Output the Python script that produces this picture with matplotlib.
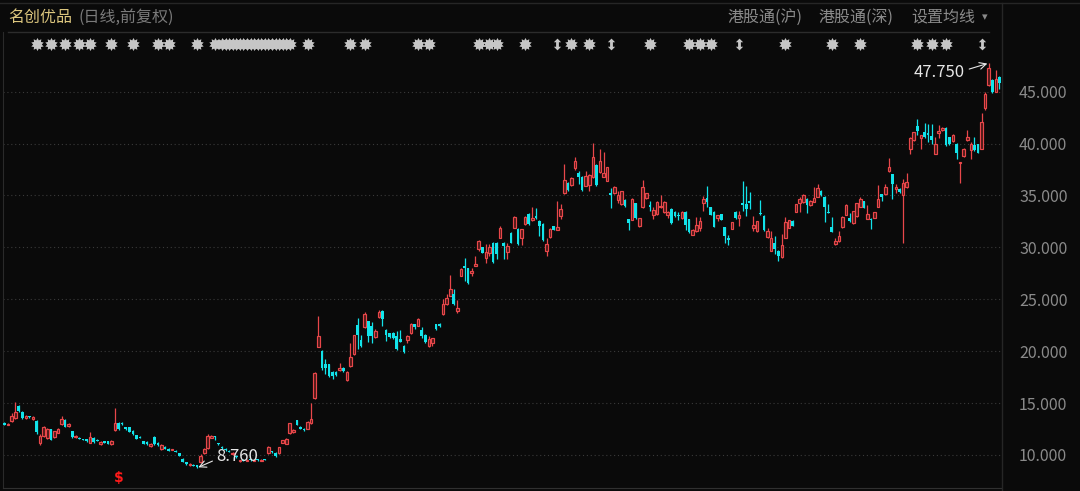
import matplotlib
matplotlib.use('Agg')
import matplotlib.pyplot as plt
from matplotlib.path import Path
import numpy as np

plt.rcParams['font.family'] = ['Noto Sans CJK SC', 'DejaVu Sans']

# daily OHLC (HKD, forward adjusted)
opens = [13.1, 12.9, 13.3, 13.6, 14.7, 14.1, 13.55, 13.75, 13.45, 13.3,
         11.2, 11.8, 11.6, 12.5, 11.7, 12.15, 13.0, 13.4, 12.75, 12.3,
         11.7, 11.65, 11.5, 11.5, 11.2, 11.65, 11.45, 11.05, 11.3, 11.3,
         11.05, 12.4, 13.1, 13.1, 12.65, 12.65, 12.35, 11.9, 11.75, 11.3,
         11.25, 10.85, 11.75, 11.2, 10.55, 10.8, 10.6, 10.5, 10.4, 10.15,
         9.65, 9.3, 9.0, 9.05, 9.0, 9.36, 10.16, 10.7, 11.65, 11.8,
         11.15, 10.8, 10.6, 10.4, 10.05, 9.95, 9.4, 9.55, 9.45, 9.6,
         9.45, 9.6, 9.45, 9.6, 10.16, 10.35, 10.2, 10.16, 11.2, 11.1,
         12.1, 12.2, 13.35, 12.7, 12.55, 12.55, 13.05, 15.46, 20.45, 20.0,
         18.8, 18.75, 17.95, 18.0, 18.2, 18.4, 17.2, 18.6, 19.7, 22.5,
         21.05, 22.3, 22.9, 22.4, 21.4, 23.25, 23.9, 22.05, 21.75, 21.8,
         21.5, 21.15, 20.5, 21.05, 21.8, 22.6, 22.45, 22.0, 21.6, 20.5,
         20.75, 22.6, 22.65, 23.55, 24.5, 25.35, 25.5, 23.9, 27.25, 28.2,
         28.0, 27.5, 28.25, 29.8, 30.0, 29.0, 29.5, 30.45, 30.45, 30.95,
         30.45, 29.6, 31.4, 31.9, 31.75, 30.95, 32.25, 33.25, 32.6, 33.0,
         32.55, 32.3, 29.7, 31.0, 32.05, 31.7, 33.0, 35.2, 36.2, 36.0,
         37.6, 37.15, 36.8, 35.95, 36.0, 36.8, 37.95, 37.25, 36.8, 36.4,
         35.2, 35.2, 34.6, 34.15, 34.6, 32.7, 32.65, 34.25, 32.1, 33.85,
         34.75, 34.1, 33.15, 33.2, 33.85, 33.4, 33.15, 33.7, 33.45, 33.1,
         32.8, 33.45, 32.7, 31.2, 31.55, 31.9, 34.25, 34.8, 33.85, 33.45,
         32.8, 33.2, 31.95, 30.9, 31.8, 33.45, 32.8, 34.25, 34.2, 34.5,
         31.85, 31.55, 33.3, 33.05, 31.0, 29.7, 30.4, 29.7, 29.05, 30.95,
         31.9, 32.55, 33.45, 34.25, 34.35, 34.7, 34.05, 34.4, 34.9, 35.45,
         34.9, 33.4, 32.0, 30.3, 30.6, 31.95, 33.15, 32.8, 32.35, 33.0,
         33.9, 34.45, 32.75, 32.75, 32.85, 33.9, 35.1, 35.1, 37.4, 37.05,
         35.65, 35.65, 35.0, 35.8, 39.5, 40.3, 41.65, 40.5, 41.1, 41.0,
         40.7, 39.0, 41.0, 41.3, 41.5, 40.6, 40.25, 40.0, 38.15, 38.8,
         40.3, 39.4, 39.85, 39.95, 39.5, 43.4, 45.6, 46.15, 45.0, 46.45]
highs = [13.2, 13.1, 14.0, 15.1, 14.8, 14.2, 13.9, 13.8, 13.75, 13.35,
         12.0, 12.8, 12.6, 12.55, 12.35, 12.6, 13.8, 13.45, 13.1, 12.35,
         11.9, 11.7, 11.55, 11.55, 12.2, 11.7, 11.5, 11.3, 11.35, 11.35,
         11.4, 14.5, 13.2, 13.15, 12.7, 12.7, 12.4, 11.95, 11.8, 11.35,
         11.3, 11.15, 11.8, 11.25, 11.05, 10.85, 10.65, 10.6, 10.45, 10.2,
         9.7, 9.35, 9.2, 9.1, 9.05, 10.05, 10.65, 12.0, 11.95, 11.85,
         11.2, 10.85, 10.65, 10.45, 10.25, 10.0, 9.55, 9.6, 9.6, 9.65,
         9.6, 9.65, 9.6, 9.65, 10.85, 10.4, 10.25, 10.8, 11.45, 11.6,
         13.1, 12.5, 13.4, 12.75, 12.6, 13.25, 15.0, 18.0, 23.4, 20.15,
         19.2, 18.8, 18.1, 18.05, 18.9, 18.45, 18.1, 20.8, 21.6, 23.2,
         21.6, 23.8, 22.95, 22.8, 22.1, 24.0, 23.95, 22.1, 21.8, 21.85,
         21.95, 22.05, 20.55, 21.55, 22.7, 22.65, 23.2, 22.3, 21.65, 21.45,
         21.3, 22.65, 22.7, 25.0, 25.5, 27.3, 26.0, 24.9, 28.0, 29.0,
         28.05, 28.0, 29.2, 30.7, 30.05, 30.3, 30.35, 30.5, 30.5, 32.1,
         30.5, 30.45, 31.45, 33.0, 31.9, 31.8, 33.0, 33.3, 33.9, 33.8,
         32.6, 32.35, 30.9, 31.85, 32.1, 34.5, 34.2, 38.0, 36.3, 36.8,
         38.7, 37.4, 36.85, 37.4, 37.05, 40.05, 38.0, 39.5, 39.2, 37.75,
         35.7, 35.9, 35.4, 35.45, 34.65, 32.75, 34.8, 34.3, 32.85, 36.5,
         35.25, 34.5, 33.9, 34.45, 35.0, 34.45, 33.5, 33.75, 33.5, 33.45,
         33.5, 33.5, 32.75, 31.75, 32.9, 32.9, 34.95, 35.9, 33.9, 33.5,
         33.15, 33.25, 32.0, 31.15, 32.45, 33.5, 33.5, 36.4, 35.9, 35.3,
         33.0, 32.55, 34.6, 33.1, 31.9, 31.6, 31.1, 29.75, 31.3, 32.9,
         32.65, 32.6, 34.2, 34.85, 35.1, 34.75, 34.55, 35.85, 36.1, 35.5,
         34.95, 34.2, 32.9, 30.9, 31.6, 33.0, 34.15, 33.3, 33.55, 34.3,
         34.9, 34.5, 34.05, 32.8, 33.45, 36.0, 35.15, 36.1, 38.65, 37.1,
         36.1, 35.7, 36.6, 37.2, 40.65, 41.15, 42.4, 40.85, 42.0, 41.9,
         41.9, 40.6, 41.75, 41.55, 41.55, 40.65, 40.95, 40.05, 38.25, 39.55,
         41.35, 40.15, 40.6, 40.0, 42.95, 44.95, 47.75, 46.2, 47.1, 46.5]
lows = [12.85, 12.85, 13.2, 13.5, 14.1, 13.5, 13.5, 13.6, 13.4, 12.0,
        11.0, 11.7, 11.5, 11.4, 11.6, 12.1, 12.9, 12.65, 12.7, 11.65,
        11.65, 11.5, 11.4, 11.25, 11.15, 11.2, 11.3, 11.0, 11.15, 11.05,
        11.0, 12.3, 12.45, 12.9, 12.45, 12.2, 11.95, 11.5, 11.6, 11.05,
        11.0, 10.8, 11.0, 10.9, 10.5, 10.55, 10.35, 10.45, 10.25, 9.9,
        9.3, 9.05, 8.95, 8.9, 8.76, 9.2, 10.1, 10.6, 11.6, 11.4,
        11.0, 10.6, 10.4, 10.25, 10.0, 9.75, 9.35, 9.4, 9.4, 9.45,
        9.4, 9.45, 9.4, 9.5, 10.1, 10.2, 9.8, 10.1, 11.15, 11.05,
        12.0, 12.15, 12.85, 12.5, 12.35, 12.5, 13.0, 15.4, 20.4, 18.2,
        17.8, 17.5, 17.3, 17.6, 18.1, 18.0, 17.1, 18.5, 19.6, 20.2,
        20.4, 22.2, 20.9, 20.8, 21.3, 23.2, 22.4, 21.0, 21.3, 21.2,
        20.1, 20.85, 19.8, 20.8, 21.7, 22.15, 22.4, 21.3, 20.8, 20.45,
        20.5, 22.05, 22.3, 23.5, 24.45, 25.3, 24.45, 23.7, 27.2, 26.8,
        26.5, 27.2, 28.2, 29.7, 29.45, 28.5, 29.2, 28.5, 28.9, 30.9,
        28.9, 28.9, 30.4, 31.85, 30.25, 30.2, 32.2, 32.2, 32.5, 32.75,
        31.1, 30.65, 29.15, 30.95, 31.65, 31.65, 32.7, 35.1, 35.4, 35.9,
        37.5, 36.1, 35.45, 35.9, 35.4, 36.7, 35.95, 37.2, 36.75, 36.35,
        33.8, 35.15, 34.3, 34.1, 33.9, 31.7, 32.6, 32.75, 32.0, 33.8,
        34.7, 33.5, 32.7, 33.15, 33.8, 33.35, 32.8, 32.3, 32.95, 32.65,
        32.75, 31.65, 31.4, 31.15, 31.5, 31.55, 33.5, 33.9, 33.1, 31.95,
        32.5, 32.6, 30.4, 30.2, 31.75, 32.75, 32.05, 33.5, 33.0, 33.7,
        31.6, 31.5, 33.15, 31.6, 30.9, 29.65, 29.4, 28.7, 29.0, 30.9,
        31.85, 32.05, 33.4, 33.45, 34.3, 33.3, 34.0, 34.35, 34.85, 34.95,
        32.4, 33.3, 31.45, 30.25, 30.55, 31.9, 33.1, 32.4, 32.3, 32.95,
        33.85, 33.75, 32.7, 31.8, 32.8, 33.85, 34.45, 35.05, 37.3, 34.7,
        35.2, 35.2, 30.4, 35.75, 39.0, 40.25, 40.85, 39.45, 40.55, 40.15,
        40.0, 38.95, 40.5, 41.25, 39.8, 39.9, 40.2, 38.5, 36.2, 38.75,
        40.25, 38.5, 39.3, 39.05, 39.45, 43.25, 45.55, 44.85, 44.95, 45.3]
closes = [12.9, 13.0, 13.75, 14.15, 14.2, 13.6, 13.75, 13.65, 13.7, 12.25,
          11.85, 12.7, 12.5, 11.45, 12.3, 12.55, 13.5, 12.7, 13.0, 11.7,
          11.85, 11.55, 11.45, 11.3, 11.7, 11.25, 11.35, 11.25, 11.2, 11.1,
          11.35, 13.1, 12.5, 12.95, 12.5, 12.25, 12.0, 11.55, 11.65, 11.1,
          11.05, 11.1, 11.05, 10.95, 11.0, 10.6, 10.4, 10.55, 10.3, 9.95,
          9.35, 9.1, 9.15, 8.95, 8.85, 9.94, 10.58, 11.83, 11.8, 11.7,
          11.05, 10.65, 10.45, 10.3, 10.2, 9.8, 9.5, 9.45, 9.55, 9.5,
          9.55, 9.5, 9.55, 9.55, 10.8, 10.25, 9.9, 10.75, 11.4, 11.5,
          13.05, 12.45, 12.9, 12.55, 12.4, 13.2, 13.5, 17.93, 21.5, 18.4,
          18.4, 17.6, 17.6, 17.7, 18.4, 18.05, 18.0, 19.4, 21.55, 21.55,
          20.5, 23.55, 21.5, 21.5, 21.95, 23.8, 23.1, 21.55, 21.4, 21.25,
          20.2, 20.9, 19.9, 21.5, 22.6, 22.3, 23.1, 21.5, 20.85, 21.15,
          21.25, 22.1, 22.45, 24.5, 25.15, 25.95, 24.5, 24.2, 27.9, 28.0,
          26.6, 27.7, 28.4, 30.6, 29.5, 29.6, 30.0, 28.55, 29.35, 31.9,
          30.1, 30.15, 30.45, 32.9, 30.3, 31.75, 32.9, 32.25, 32.85, 32.8,
          32.1, 30.7, 30.3, 31.8, 31.7, 32.0, 33.7, 36.5, 35.5, 36.7,
          38.3, 36.8, 35.5, 36.9, 37.0, 38.75, 36.0, 38.35, 37.15, 37.7,
          35.05, 35.85, 35.05, 35.4, 33.95, 32.35, 34.7, 32.8, 32.8, 35.85,
          35.2, 33.9, 33.6, 34.4, 34.0, 34.4, 33.45, 32.35, 33.0, 33.0,
          33.45, 32.15, 31.45, 31.7, 32.15, 32.55, 34.7, 34.4, 33.15, 32.0,
          33.1, 32.65, 31.05, 30.7, 32.4, 32.8, 33.1, 34.1, 33.7, 34.25,
          32.2, 32.5, 33.2, 31.65, 31.6, 30.95, 29.85, 29.2, 30.2, 32.4,
          32.6, 32.1, 34.15, 34.7, 35.05, 34.1, 34.5, 34.8, 35.7, 35.0,
          33.85, 33.35, 31.5, 30.6, 31.05, 32.95, 34.1, 32.5, 33.5, 34.25,
          34.7, 33.8, 33.25, 32.6, 33.4, 34.7, 34.85, 35.8, 37.75, 36.15,
          35.8, 35.35, 36.2, 36.3, 40.5, 41.1, 41.2, 40.8, 40.6, 40.8,
          40.3, 40.0, 41.2, 41.5, 39.85, 39.95, 40.8, 39.05, 38.2, 39.5,
          40.65, 40.0, 39.35, 39.1, 42.1, 44.8, 47.25, 45.0, 46.25, 45.8]

# event markers along the top row (candle index)
star_days = [9, 13, 17, 21, 24, 30, 36, 43, 46, 54, 59] + list(range(61, 81)) + \
            [85, 97, 101, 116, 119, 133, 136, 138, 146, 159, 164, 181, 192, 195,
             198, 219, 232, 240, 256, 260, 264]
split_days = [155, 170, 206, 274]
dividend_day = 32

price_ticks = [10, 15, 20, 25, 30, 35, 40, 45]
low_day, low_val = 54, 8.760
high_day, high_val = 276, 47.750

W, H = 1080, 491
bg = '#0a0a0a'
up_edge = '#e8474a'
up_face = '#4a1717'
down_col = '#12e3ea'
grey = '#8a8a8a'
mark_col = '#c6c6c6'

fig = plt.figure(figsize=(W / 100, H / 100), dpi=100, facecolor=bg)


def fx(x):
    return x / W


def fy(y):
    return 1 - y / H


ax = fig.add_axes([fx(3), fy(488), fx(1001) - fx(3), fy(32) - fy(488)], facecolor=bg)

o = np.array(opens)
h = np.array(highs)
l = np.array(lows)
c = np.array(closes)
x = np.arange(len(o))
up = c >= o

# wicks
ax.vlines(x[up], l[up], h[up], color=up_edge, lw=0.9, zorder=2)
ax.vlines(x[~up], l[~up], h[~up], color=down_col, lw=0.9, zorder=2)
# bodies
body_lo = np.minimum(o, c)
body_h = np.maximum(np.abs(c - o), 0.07)
ax.bar(x[up], body_h[up], bottom=body_lo[up], width=0.74,
       facecolor=up_face, edgecolor=up_edge, linewidth=0.85, zorder=3)
ax.bar(x[~up], body_h[~up], bottom=body_lo[~up], width=0.74,
       color=down_col, linewidth=0, zorder=3)

ax.set_xlim(-0.42, 279.45)
ax.set_ylim(6.82, 50.75)

ax.set_yticks(price_ticks)
ax.yaxis.tick_right()
ax.yaxis.set_major_formatter(matplotlib.ticker.FormatStrFormatter('%.3f'))
ax.tick_params(axis='y', length=0, pad=13, labelsize=11.5, labelcolor=grey)
ax.set_xticks([])
ax.grid(axis='y', color='#3a3a3a', linestyle=(0, (1, 2.5)), linewidth=0.8)
for side in ['top', 'right']:
    ax.spines[side].set_visible(False)
ax.spines['left'].set_color('#2a2a2a')
ax.spines['bottom'].set_color('#303030')

# marker shapes: gear-like star and a thick up/down arrow
ang = np.linspace(0, 2 * np.pi, 20, endpoint=False) + np.pi / 2
rad = np.where(np.arange(20) % 2 == 0, 1.0, 0.66)
gear = Path(np.column_stack([rad * np.cos(ang), rad * np.sin(ang)]), closed=False)
updown = Path([(0, 1), (0.62, 0.38), (0.24, 0.38), (0.24, -0.38), (0.62, -0.38),
               (0, -1), (-0.62, -0.38), (-0.24, -0.38), (-0.24, 0.38), (-0.62, 0.38)])

tr = matplotlib.transforms.blended_transform_factory(ax.transData, ax.transAxes)
ax.scatter(star_days, [0.9737] * len(star_days), transform=tr, marker=gear,
           s=88, color=mark_col, linewidths=0, zorder=5, clip_on=False)
ax.scatter(split_days, [0.9737] * len(split_days), transform=tr, marker=updown,
           s=72, color=mark_col, linewidths=0, zorder=5, clip_on=False)
ax.text(dividend_day, 0.022, '$', transform=tr, ha='center', va='center',
        fontsize=10, color='#ff1a1a', fontweight='bold', family='DejaVu Sans')

# min / max annotations
ax.annotate(f'{low_val:.3f}', xy=(low_day, low_val), xytext=(14, 8), textcoords='offset points',
            ha='left', va='center', fontsize=12, color='#e6e6e6',
            arrowprops=dict(arrowstyle='->', color='#e6e6e6', lw=0.8,
                            shrinkA=1, shrinkB=1, relpos=(0, 0.35)), zorder=6)
ax.annotate(f'{high_val:.3f}', xy=(high_day, high_val), xytext=(-17, -7), textcoords='offset points',
            ha='right', va='center', fontsize=12, color='#e6e6e6',
            arrowprops=dict(arrowstyle='->', color='#e6e6e6', lw=0.8,
                            shrinkA=1, shrinkB=1, relpos=(1, 0.65)), zorder=6)

# header
fig.text(fx(8), fy(17), '名创优品', ha='left', va='center', fontsize=11.5, color='#dcc67e')
fig.text(fx(79), fy(17), '(日线,前复权)', ha='left', va='center', fontsize=11.5, color='#7a7a7a')
fig.text(fx(727), fy(17), '港股通(沪)', ha='left', va='center', fontsize=11.5, color=grey)
fig.text(fx(818), fy(17), '港股通(深)', ha='left', va='center', fontsize=11.5, color=grey)
fig.text(fx(911), fy(17), '设置均线', ha='left', va='center', fontsize=11.5, color=grey)
fig.text(fx(985), fy(17), '▾', ha='center', va='center', fontsize=8, color=grey,
         family='DejaVu Sans')

fig.add_artist(plt.Line2D([fx(8), fx(989)], [fy(32), fy(32)], color='#2c2c2c', lw=1))
fig.add_artist(plt.Line2D([fx(1001.5), fx(1001.5)], [fy(3), 0], color='#262626', lw=1))
fig.add_artist(plt.Line2D([0, 1], [fy(2.5), fy(2.5)], color='#262626', lw=1))

fig.savefig('out.png', dpi=100, facecolor=bg)
